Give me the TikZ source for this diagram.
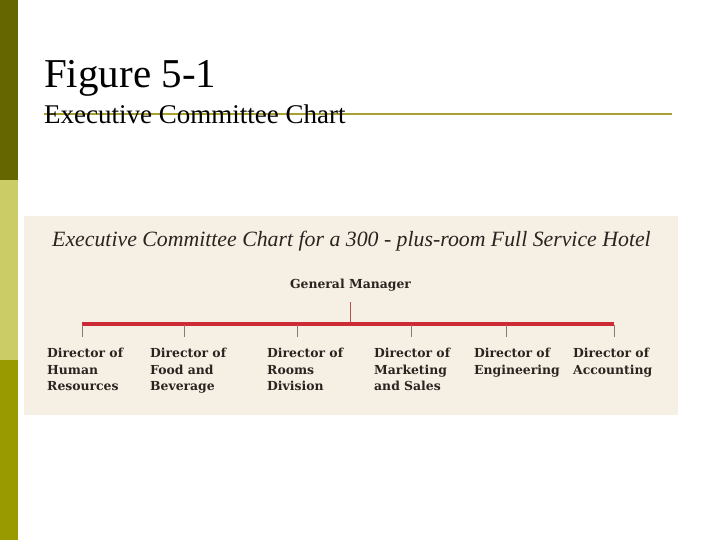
\documentclass[tikz,border=0pt]{standalone}
\usepackage{fontspec}
\setmainfont{Liberation Serif}
\newfontfamily\dirfont{DejaVu Serif}
\definecolor{barA}{HTML}{666600}
\definecolor{barB}{HTML}{CCCC66}
\definecolor{barC}{HTML}{999900}
\definecolor{rule}{HTML}{A8A030}
\definecolor{panel}{HTML}{F6EFE4}
\definecolor{redline}{HTML}{CC2A35}
\definecolor{tick}{HTML}{8A7A70}
\definecolor{gmtick}{HTML}{B85050}
\definecolor{ink}{HTML}{2A2420}
\tikzset{
  dirbox/.style={anchor=north west, align=left, inner sep=0pt, font=\dirfont\bfseries\fontsize{12.4}{16.5}\selectfont, text=ink},
  tickline/.style={draw=tick, line width=0.7pt},
}
\begin{document}
\begin{tikzpicture}[x=1pt,y=-1pt]
\useasboundingbox (0,0) rectangle (720,540);
\fill[white] (0,0) rectangle (720,540);
% left bar
\fill[barA] (0,0) rectangle (18,180);
\fill[barB] (0,180) rectangle (18,360);
\fill[barC] (0,360) rectangle (18,540);
% titles
\node[anchor=base west, inner sep=0pt, font=\fontsize{41}{41}\selectfont] (title) at (44,88) {Figure 5-1};
\coordinate (ruleL) at (44,114);
\coordinate (ruleR) at (672,114);
\draw[rule, line width=1.5pt] (ruleL) -- (ruleR);
\node[anchor=base west, inner sep=0pt, font=\fontsize{27}{27}\selectfont] (subtitle) at (44,124) {Executive Committee Chart};
% panel
\fill[panel] (24,216) rectangle (678,415);
\node[anchor=base west, inner sep=0pt, font=\itshape\fontsize{21.8}{22}\selectfont, text=ink] (charttitle) at (52,247) {Executive Committee Chart for a 300 - plus-room Full Service Hotel};
\node[anchor=base, inner sep=0pt, font=\dirfont\bfseries\fontsize{12.4}{14}\selectfont, text=ink] (gm) at (350.5,288.5) {General Manager};
\coordinate (gmb) at (350,302);
\coordinate (busL) at (82,323.5);
\coordinate (busR) at (614,323.5);
\coordinate (bus) at (350,323.5);
\draw[gmtick, line width=0.8pt] (gmb) -- (bus);
\draw[redline, line width=4pt] (busL) -- (busR);
% directors
\node[dirbox] (d1) at (47,348) {Director of\\Human\\Resources};
\node[dirbox] (d2) at (150,348) {Director of\\Food and\\Beverage};
\node[dirbox] (d3) at (267,348) {Director of\\Rooms\\Division};
\node[dirbox] (d4) at (374,348) {Director of\\Marketing\\and Sales};
\node[dirbox] (d5) at (474,348) {Director of\\Engineering};
\node[dirbox] (d6) at (573,348) {Director of\\Accounting};
\foreach \x/\n in {82/1,184/2,297/3,411/4,506/5,614/6}{
  \coordinate (t\n) at (\x,337);
  \draw[tickline] (\x,325) -- (t\n);
}
\end{tikzpicture}
\end{document}
